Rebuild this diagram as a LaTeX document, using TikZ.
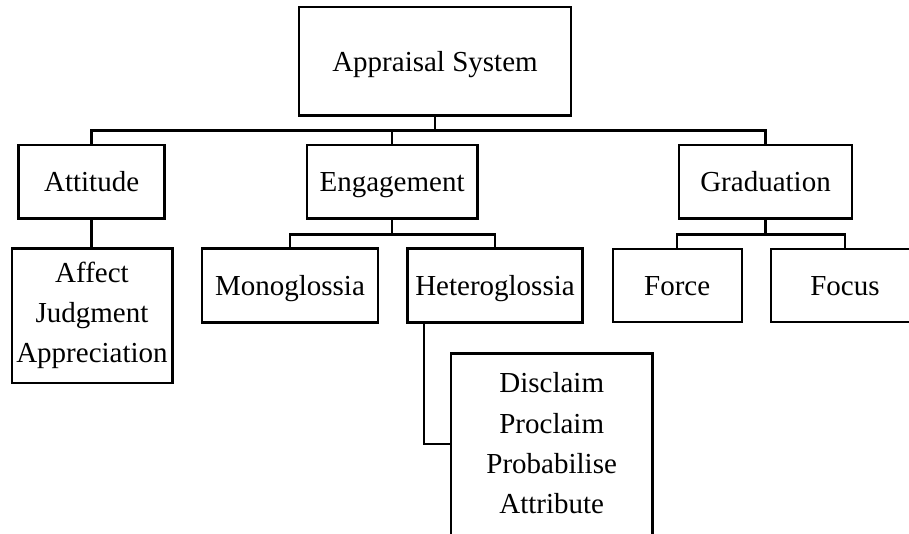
\documentclass[tikz,border=0pt]{standalone}
\usepackage{fontspec}
\setmainfont{Liberation Serif}
\begin{document}
\begin{tikzpicture}[x=1pt,y=-1pt,
  box/.style={draw, line width=2.4pt, inner sep=0pt, font=\fontsize{29}{40.3}\selectfont},
  one/.style={box, text height=20pt, text depth=0pt},
  wire/.style={line width=2.4pt}]
\useasboundingbox (0,0) rectangle (909,533);
\clip (0,0) rectangle (909,533);
% boxes
\node[one, minimum width=272pt, minimum height=108.6pt] (app) at (435,61) {Appraisal System};
\node[one, minimum width=146pt, minimum height=73.5pt] (att) at (91.6,181.9) {Attitude};
\node[one, minimum width=170.8pt, minimum height=73.5pt] (eng) at (392.1,181.9) {Engagement};
\node[one, minimum width=173pt, minimum height=73.5pt] (gra) at (765.5,181.9) {Graduation};
\node[box, align=center, minimum width=160.6pt, minimum height=134.4pt] (aff) at (92,315.5) {Affect\\Judgment\\Appreciation};
\node[one, minimum width=176.5pt, minimum height=74pt] (mon) at (290,285.5) {Monoglossia};
\node[one, minimum width=175pt, minimum height=74pt] (het) at (495,285.5) {Heteroglossia};
\node[one, minimum width=129pt, minimum height=73.5pt] (for) at (677.2,285.5) {Force};
\node[one, minimum width=147.5pt, minimum height=73.5pt] (foc) at (845,285.5) {Focus};
\node[box, anchor=north, minimum width=201.3pt, minimum height=230pt] (dis) at (551.7,352.3) {};
\node[anchor=north, inner sep=0pt, align=center, font=\fontsize{29}{40.3}\selectfont] (disT) at (551.7,372.4) {Disclaim\\Proclaim\\Probabilise\\Attribute};
% connectors
\coordinate (bus) at (435,130.5);
\coordinate (ebus) at (392.1,234.3);
\coordinate (gbus) at (765.5,234.3);
\draw[wire] (app.south) -- (bus);
\draw[wire] (att.north) |- (bus) -| (gra.north);
\draw[wire] (eng.north) -- (eng.north |- bus);
\draw[wire] (att.south) -- (att.south |- aff.north);
\draw[wire] (eng.south) -- (ebus);
\draw[wire] (mon.north) |- (ebus) -| (het.north);
\draw[wire] (gra.south) -- (gbus);
\draw[wire] (for.north) |- (gbus) -| (foc.north);
\draw[wire] ([xshift=17.5pt]het.south west) |- ([yshift=-91.7pt]dis.north west);
\end{tikzpicture}
\end{document}
